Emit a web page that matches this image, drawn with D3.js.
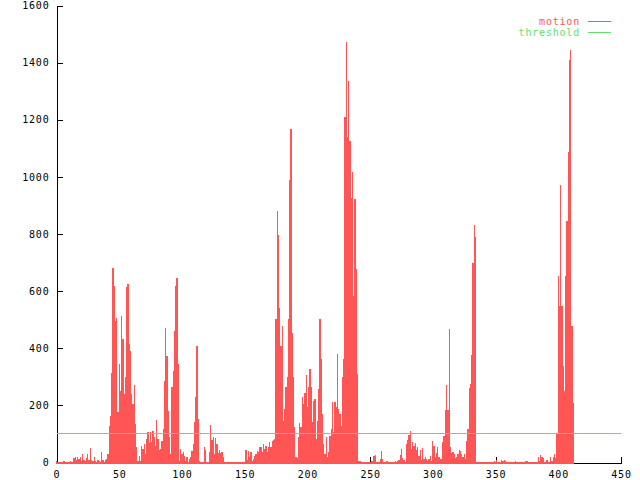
<!DOCTYPE html>
<html>
<head>
<meta charset="utf-8">
<script src="https://cdn.jsdelivr.net/npm/d3@7"></script>
<style>
  html, body { margin: 0; padding: 0; background: #fff; }
  svg { display: block; }
  text { font-family: "DejaVu Sans Mono", "Liberation Mono", monospace; font-size: 10px; letter-spacing: 0.8px; }
</style>
</head>
<body>
<svg id="chart" width="640" height="480"></svg>
<script>
// ---- data ----
const seriesNames = ["motion", "threshold"];
const motion = [
  6,3,3,2,3,2,4,2,3,3,
  2,4,3,3,16,20,10,18,13,19,
  6,30,8,4,15,30,10,50,10,5,
  18,6,3,10,6,3,36,8,3,10,
  12,30,129,164,315,682,617,495,507,176,
  344,251,512,431,240,298,613,625,414,391,
  240,205,270,135,53,7,24,7,59,48,
  65,30,82,106,67,106,71,112,88,59,
  149,83,44,48,77,117,286,472,373,181,
  88,30,263,321,460,617,646,344,7,48,
  30,36,24,7,19,1,13,19,42,65,
  141,228,408,153,7,3,3,3,53,44,
  1,1,36,132,79,88,30,86,65,33,
  44,33,36,19,2,2,2,2,2,2,
  2,2,2,2,2,2,2,2,2,2,
  2,44,9,42,19,36,7,13,24,30,
  42,36,53,53,36,65,48,59,36,53,
  71,53,77,80,83,501,879,798,542,408,
  478,147,187,263,298,501,990,1168,455,298,
  123,21,16,88,140,123,228,205,245,308,
  193,263,327,263,141,216,222,83,147,257,
  501,362,170,65,30,88,19,36,94,117,
  211,106,211,193,379,187,170,129,298,362,
  1210,1473,1141,1334,1124,925,1018,583,921,676,
  310,5,5,2,2,2,2,2,2,2,
  3,7,5,24,28,2,2,2,13,42,
  13,2,2,5,7,2,2,2,2,2,
  5,2,7,9,28,48,16,9,2,65,
  79,97,109,48,71,59,69,44,53,24,
  44,9,51,13,19,12,7,12,24,5,
  74,59,19,33,56,19,14,13,71,94,
  184,270,184,466,53,33,36,30,16,19,
  30,44,40,30,21,30,14,74,117,262,
  274,377,699,833,788,2,2,2,2,3,
  2,2,2,2,2,2,2,2,2,5,
  2,9,2,2,2,10,5,10,6,2,
  2,2,2,2,2,2,5,2,2,2,
  2,2,2,2,5,5,2,2,2,2,
  2,2,2,2,21,7,28,19,16,1,
  3,10,1,2,19,5,19,30,16,100,
  652,547,972,547,338,251,652,844,1088,1408,
  1443,478,210
];
const frames = motion.map((_, i) => i);
const thresholdX = [0, 450];
const thresholdY = [100, 100];
const xTicks = [0,50,100,150,200,250,300,350,400,450];
const yTicks = [0,200,400,600,800,1000,1200,1400,1600];

// ---- drawing ----
const svg = d3.select("#chart");
const x = d3.scaleLinear().domain([0, 450]).range([56.5, 621]);
const y = d3.scaleLinear().domain([0, 1600]).range([462.5, 5.5]);
const colMotion = "#ff5555";
const colThresh = "#66dd66";

// axes (under the bars)
const gx = svg.append("g").attr("transform", `translate(0,${y(0)})`)
  .call(d3.axisBottom(x).tickValues(xTicks).tickFormat(d3.format("d"))
    .tickSizeInner(-6).tickSizeOuter(0).tickPadding(8));
const gy = svg.append("g").attr("transform", `translate(${x(0)},0)`)
  .call(d3.axisLeft(y).tickValues(yTicks).tickFormat(d3.format("d"))
    .tickSizeInner(-6).tickSizeOuter(0).tickPadding(7));
svg.selectAll(".tick text").attr("fill", "#000").style("font-size", "10px");
svg.selectAll(".domain, .tick line").attr("stroke", "#000").attr("shape-rendering", "crispEdges");

// bars
const bw = x(1) - x(0);
svg.append("g").selectAll("rect").data(frames).join("rect")
  .attr("x", i => x(i) - bw / 2)
  .attr("width", bw)
  .attr("y", i => y(motion[i]))
  .attr("height", i => y(0) - y(motion[i]) + 1)
  .attr("fill", colMotion)
  .attr("shape-rendering", "crispEdges");

// threshold line
const line = d3.line().x(d => x(d[0])).y(d => y(d[1]));
svg.append("path")
  .datum(thresholdX.map((v, i) => [v, thresholdY[i]]))
  .attr("d", line).attr("stroke", colThresh).attr("stroke-width", 1)
  .attr("fill", "none").attr("shape-rendering", "crispEdges");

// legend
const legend = [
  { name: seriesNames[0], color: colMotion, y: 21.5 },
  { name: seriesNames[1], color: colThresh, y: 32.5 }
];
const lg = svg.append("g");
legend.forEach(l => {
  lg.append("text").attr("x", 580).attr("y", l.y).attr("dy", "0.35em")
    .attr("text-anchor", "end").attr("fill", l.color).text(l.name);
  lg.append("line").attr("x1", 588).attr("x2", 611).attr("y1", l.y).attr("y2", l.y)
    .attr("stroke", l.color).attr("shape-rendering", "crispEdges");
});
</script>
</body>
</html>
